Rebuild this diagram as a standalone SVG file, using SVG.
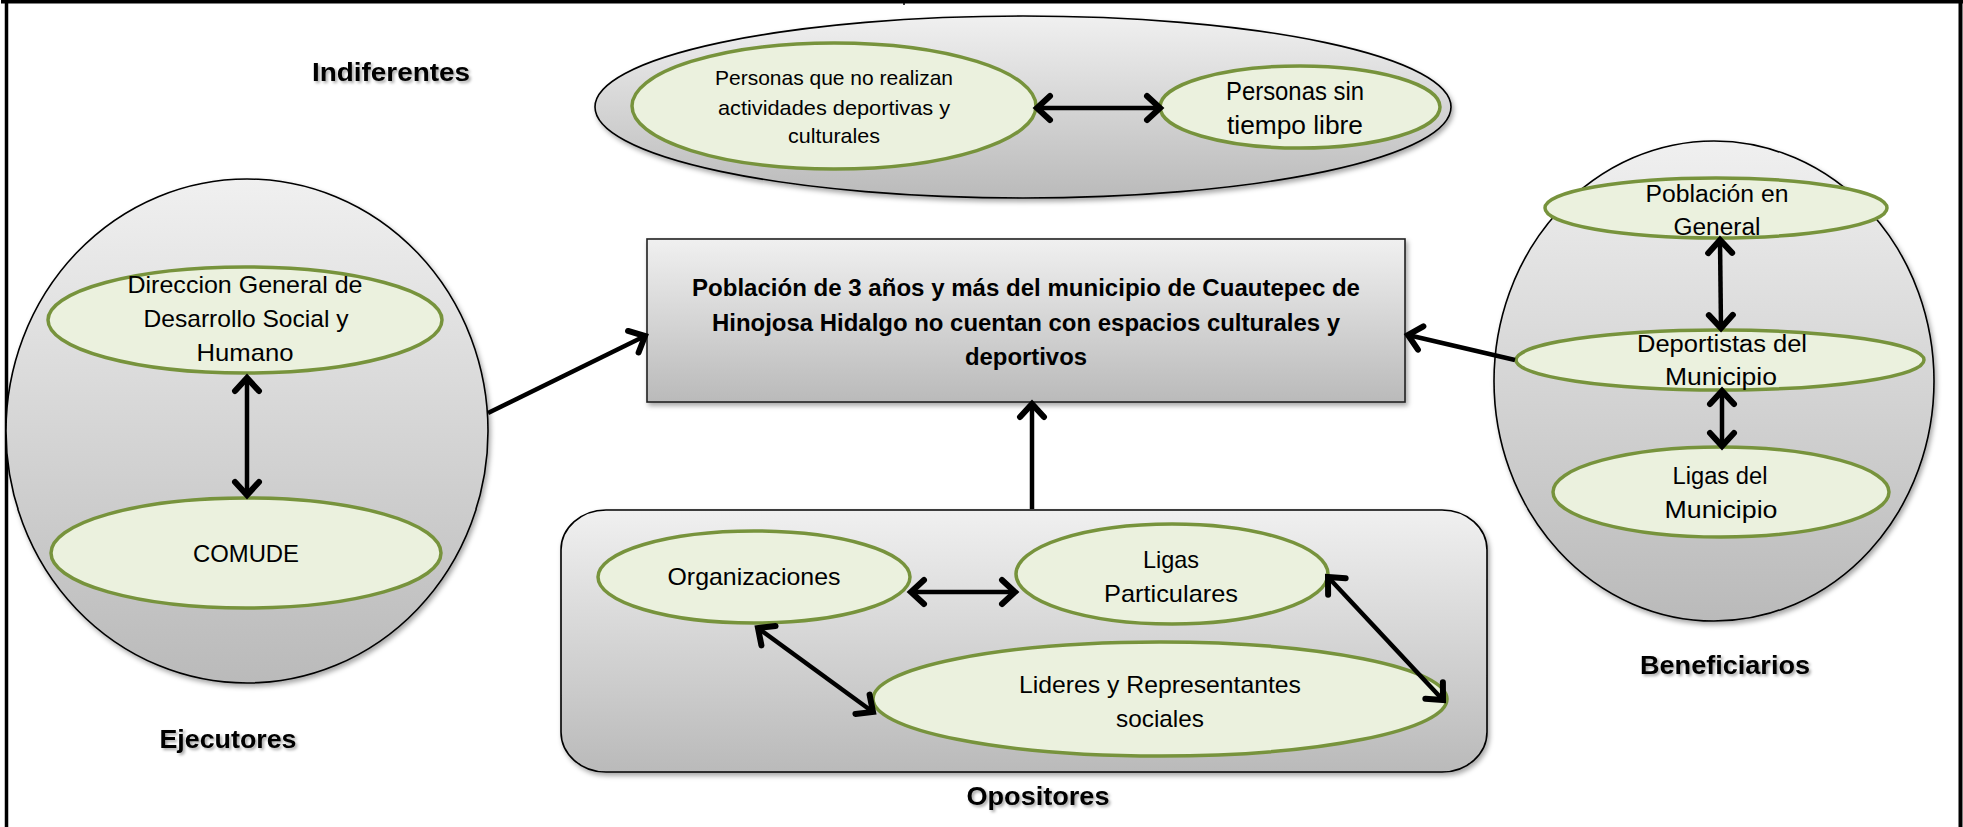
<svg xmlns="http://www.w3.org/2000/svg" width="1963" height="827" viewBox="0 0 1963 827">
<style>
.outer{fill:url(#gr);stroke:#000;stroke-width:1.6;filter:url(#sh)}
.node{fill:#ebf1de;stroke:#77933c;stroke-width:3.5}
.t{font-family:"Liberation Sans",Arial,sans-serif;fill:#000;text-anchor:middle}
.lbl{font-family:"Liberation Sans",Arial,sans-serif;font-weight:bold;font-size:26px;fill:#000;text-anchor:middle;filter:url(#ts)}
.ctr{font-family:"Liberation Sans",Arial,sans-serif;font-weight:bold;font-size:23px;fill:#000;text-anchor:middle}
.c{stroke:#000;stroke-width:4.5;fill:none}
.d{marker-start:url(#ah);marker-end:url(#ah)}
.s{marker-end:url(#ah)}
.frame{stroke:#000;fill:none}
</style>
<defs>
<linearGradient id="gr" x1="0" y1="0" x2="0" y2="1">
<stop offset="0" stop-color="#f0f0f0"/>
<stop offset="1" stop-color="#bababa"/>
</linearGradient>
<filter id="sh" x="-10%" y="-10%" width="120%" height="130%">
<feDropShadow dx="2" dy="3" stdDeviation="2.5" flood-color="#000" flood-opacity="0.35"/>
</filter>
<filter id="ts" x="-10%" y="-30%" width="120%" height="160%">
<feDropShadow dx="2" dy="2" stdDeviation="1.5" flood-color="#000" flood-opacity="0.35"/>
</filter>
<marker id="ah" viewBox="0 0 30 30" markerWidth="30" markerHeight="30" refX="23" refY="15" orient="auto-start-reverse" markerUnits="userSpaceOnUse" style="overflow:visible">
<path d="M10,3 L23,15 L10,27" fill="none" stroke="#000" stroke-width="6" stroke-linecap="round" stroke-linejoin="miter"/>
</marker>
</defs>
<rect width="1963" height="827" fill="#fff"/>
<g id="frame">
<line class="frame" x1="1" y1="1.7" x2="1963" y2="1.7" stroke-width="3.4"/>
<line class="frame" x1="6.5" y1="0" x2="6.5" y2="827" stroke-width="3.5"/>
<line class="frame" x1="1960.5" y1="0" x2="1960.5" y2="827" stroke-width="4"/>
<line class="frame" x1="904" y1="0" x2="904" y2="5" stroke-width="1.5"/>
</g>

<g id="indiferentes">
<ellipse class="outer" cx="1023" cy="107" rx="428" ry="91"/>
<text class="lbl" x="391" y="81" textLength="158" lengthAdjust="spacingAndGlyphs">Indiferentes</text>
</g>
<g id="personas-no-realizan">
<ellipse class="node" cx="834" cy="106" rx="202" ry="63"/>
<text class="t" font-size="21" x="834" y="85" textLength="238" lengthAdjust="spacingAndGlyphs">Personas que no realizan</text>
<text class="t" font-size="21" x="834" y="115" textLength="232" lengthAdjust="spacingAndGlyphs">actividades deportivas y</text>
<text class="t" font-size="21" x="834" y="143" textLength="92" lengthAdjust="spacingAndGlyphs">culturales</text>
</g>
<g id="personas-sin-tiempo">
<ellipse class="node" cx="1300" cy="107" rx="140" ry="41"/>
<text class="t" font-size="25" x="1295" y="100" textLength="138" lengthAdjust="spacingAndGlyphs">Personas sin</text>
<text class="t" font-size="25" x="1295" y="134" textLength="136" lengthAdjust="spacingAndGlyphs">tiempo libre</text>
</g>

<g id="ejecutores">
<ellipse class="outer" cx="247" cy="431" rx="241" ry="252"/>
<text class="lbl" x="228" y="748" textLength="137" lengthAdjust="spacingAndGlyphs">Ejecutores</text>
</g>
<g id="direccion-general">
<ellipse class="node" cx="245" cy="320" rx="197" ry="53"/>
<text class="t" font-size="24" x="245" y="293" textLength="235" lengthAdjust="spacingAndGlyphs">Direccion General de</text>
<text class="t" font-size="24" x="246" y="327" textLength="205" lengthAdjust="spacingAndGlyphs">Desarrollo Social y</text>
<text class="t" font-size="24" x="245" y="361" textLength="97" lengthAdjust="spacingAndGlyphs">Humano</text>
</g>
<g id="comude">
<ellipse class="node" cx="246" cy="553" rx="195" ry="55"/>
<text class="t" font-size="24" x="246" y="562" textLength="106" lengthAdjust="spacingAndGlyphs">COMUDE</text>
</g>

<g id="problema">
<rect x="647" y="239" width="758" height="163" fill="url(#gr)" stroke="#222" stroke-width="1.6" filter="url(#sh)"/>
<text class="ctr" x="1026" y="296" textLength="668" lengthAdjust="spacingAndGlyphs">Población de 3 años y más del municipio de Cuautepec de</text>
<text class="ctr" x="1026" y="331" textLength="628" lengthAdjust="spacingAndGlyphs">Hinojosa Hidalgo no cuentan con espacios culturales y</text>
<text class="ctr" x="1026" y="365" textLength="122" lengthAdjust="spacingAndGlyphs">deportivos</text>
</g>

<g id="beneficiarios">
<ellipse class="outer" cx="1714" cy="381" rx="220" ry="240"/>
<text class="lbl" x="1725" y="674" textLength="170" lengthAdjust="spacingAndGlyphs">Beneficiarios</text>
</g>
<g id="poblacion-general">
<ellipse class="node" cx="1716" cy="208" rx="171" ry="30"/>
<text class="t" font-size="23" x="1717" y="202" textLength="143" lengthAdjust="spacingAndGlyphs">Población en</text>
<text class="t" font-size="23" x="1717" y="235" textLength="87" lengthAdjust="spacingAndGlyphs">General</text>
</g>
<g id="deportistas">
<ellipse class="node" cx="1720" cy="360" rx="204" ry="30"/>
<text class="t" font-size="23" x="1722" y="352" textLength="170" lengthAdjust="spacingAndGlyphs">Deportistas del</text>
<text class="t" font-size="23" x="1721" y="385" textLength="112" lengthAdjust="spacingAndGlyphs">Municipio</text>
</g>
<g id="ligas-municipio">
<ellipse class="node" cx="1721" cy="492" rx="168" ry="45"/>
<text class="t" font-size="23" x="1720" y="484" textLength="95" lengthAdjust="spacingAndGlyphs">Ligas del</text>
<text class="t" font-size="23" x="1721" y="518" textLength="113" lengthAdjust="spacingAndGlyphs">Municipio</text>
</g>

<g id="opositores">
<rect class="outer" x="561" y="510" width="926" height="262" rx="45" ry="40"/>
<text class="lbl" x="1038" y="805" textLength="143" lengthAdjust="spacingAndGlyphs">Opositores</text>
</g>
<g id="organizaciones">
<ellipse class="node" cx="754" cy="577" rx="156" ry="46"/>
<text class="t" font-size="24" x="754" y="585" textLength="173" lengthAdjust="spacingAndGlyphs">Organizaciones</text>
</g>
<g id="ligas-particulares">
<ellipse class="node" cx="1172" cy="574" rx="156" ry="50"/>
<text class="t" font-size="24" x="1171" y="568" textLength="56" lengthAdjust="spacingAndGlyphs">Ligas</text>
<text class="t" font-size="24" x="1171" y="602" textLength="134" lengthAdjust="spacingAndGlyphs">Particulares</text>
</g>
<g id="lideres">
<ellipse class="node" cx="1160" cy="699" rx="287" ry="57"/>
<text class="t" font-size="24" x="1160" y="693" textLength="282" lengthAdjust="spacingAndGlyphs">Lideres y Representantes</text>
<text class="t" font-size="24" x="1160" y="727" textLength="88" lengthAdjust="spacingAndGlyphs">sociales</text>
</g>

<g id="connectors">
<line class="c d" x1="1037" y1="108" x2="1160" y2="108" stroke-width="6"/>
<line class="c d" x1="247" y1="378" x2="247" y2="495"/>
<line class="c s" x1="488" y1="413" x2="645" y2="336"/>
<line class="c d" x1="1720" y1="240" x2="1721" y2="328"/>
<line class="c d" x1="1722" y1="391" x2="1722" y2="446"/>
<line class="c s" x1="1515" y1="360" x2="1408" y2="335"/>
<line class="c s" x1="1032" y1="509" x2="1032" y2="404"/>
<line class="c d" x1="911" y1="592" x2="1015" y2="592"/>
<line class="c d" x1="758" y1="628" x2="873" y2="712"/>
<line class="c d" x1="1328" y1="577" x2="1443" y2="700"/>
</g>
</svg>
